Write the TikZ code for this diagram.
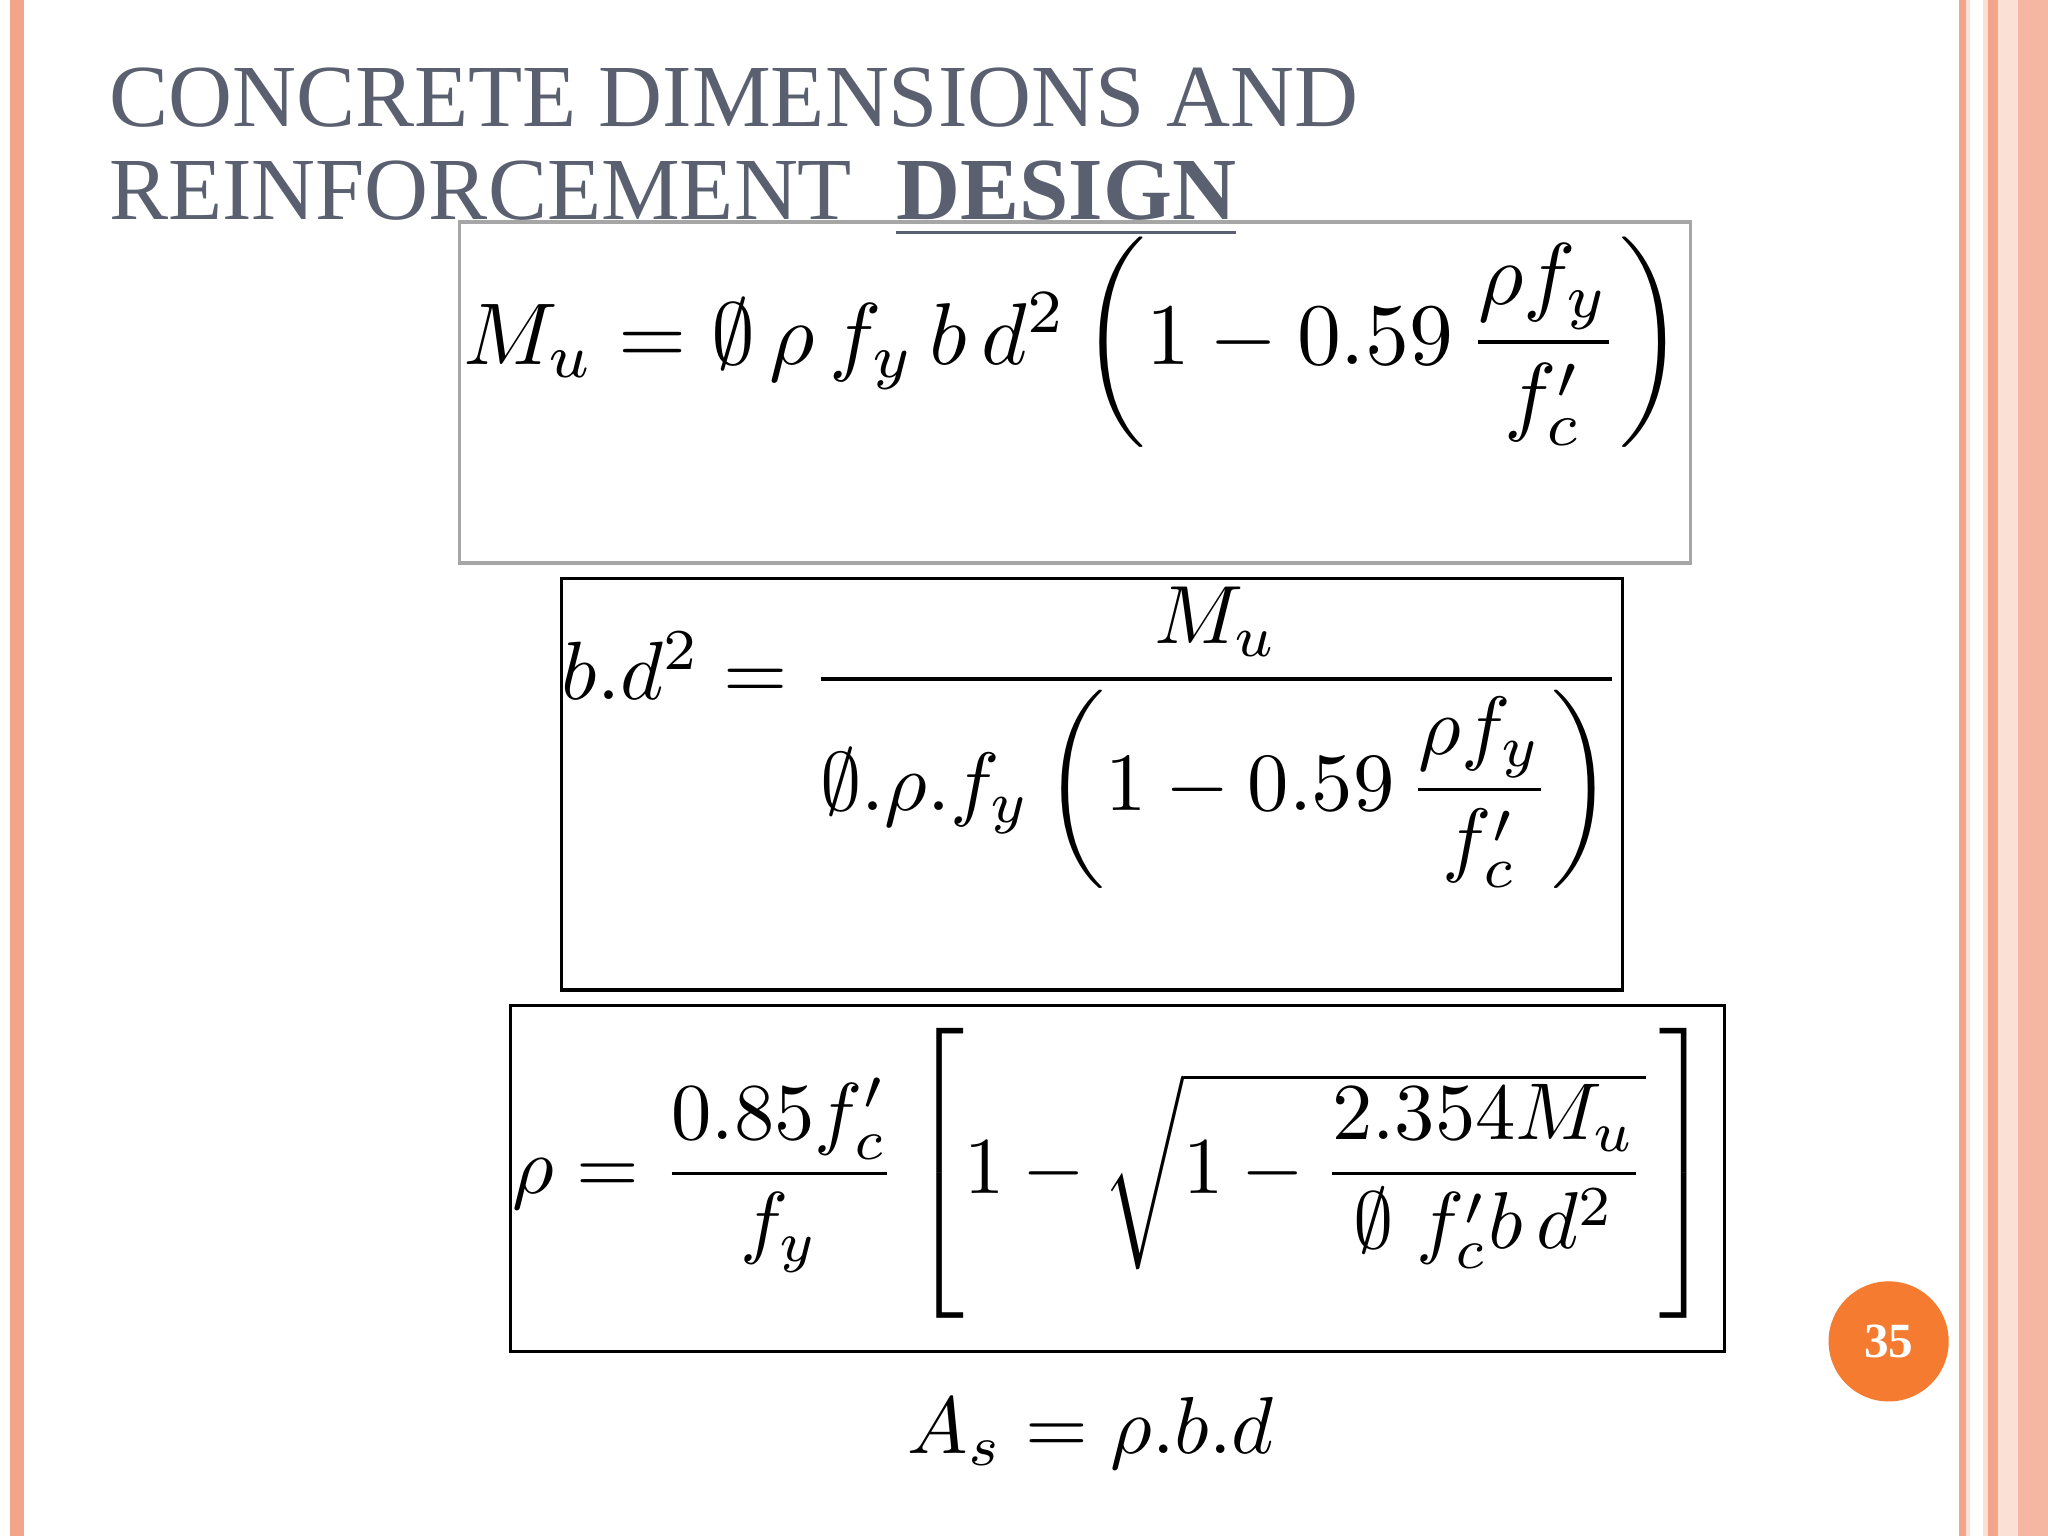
\documentclass[tikz,border=0pt]{standalone}
\usepackage{amsmath,amssymb,graphicx}
\usepackage{fontspec}
\newfontfamily\titlefont{Liberation Serif}
\newfontfamily\numfont{Liberation Serif}
\definecolor{titlegray}{HTML}{5B6070}
\definecolor{stripe}{HTML}{F2A58A}
\definecolor{palestripe}{HTML}{FBE0D6}
\definecolor{badge}{HTML}{F47B30}
\begin{document}
\begin{tikzpicture}[x={(0.013061cm,0)},y={(0,-0.013061cm)},
  fbox/.style={draw,line width=0.9pt},
  txt/.style={inner sep=0pt,anchor=center}]
\useasboundingbox (0,0) rectangle (1568,1176);
\fill[white] (0,0) rectangle (1568,1176);
% borders
\fill[stripe] (8,0) rectangle (18,1176);
\fill[palestripe] (1500,0) rectangle (1568,1176);
\fill[stripe] (1500,0) rectangle (1505,1176);
\fill[white] (1508,0) rectangle (1518,1176);
\fill[stripe] (1522,0) rectangle (1530,1176);
\fill[stripe!80] (1545,0) rectangle (1568,1176);
% title
\node[anchor=base west,inner sep=0pt,text=titlegray] (t1) at (83,97) {\titlefont\fontsize{25.2}{30}\selectfont CONCRETE DIMENSIONS AND};
\node[anchor=base west,inner sep=0pt,text=titlegray] (t2) at (83,168) {\titlefont\fontsize{25.2}{30}\selectfont REINFORCEMENT\ \ \textbf{\underline{DESIGN}}};
% boxes
\draw[fbox,draw=gray!70] (352,170) rectangle (1294,431);
\draw[fbox] (430,443) rectangle (1242,758);
\draw[fbox] (391,770) rectangle (1320,1035);
\node[txt] (f1) at (822,262) {\resizebox{12.2cm}{!}{$M_u=\emptyset\,\rho\,f_y\,b\,d^2\left(1-0.59\,\dfrac{\rho f_y}{f'_c}\right)$}};
\node[txt] (f2) at (836,565) {\resizebox{10.6cm}{!}{$b.d^2=\dfrac{M_u}{\emptyset.\rho.f_y\left(1-0.59\,\dfrac{\rho f_y}{f'_c}\right)}$}};
\node[txt] (f3) at (852,900) {\resizebox{12.0cm}{!}{$\rho=\dfrac{0.85f'_c}{f_y}\left[1-\sqrt{1-\dfrac{2.354M_u}{\emptyset\;f'_c b\,d^2}}\,\rule[-1.6em]{0pt}{3.6em}\right]$}};
\node[txt] (f4) at (835,1097) {\resizebox{3.66cm}{!}{$A_s=\rho.b.d$}};
% page badge
\node[circle,fill=badge,minimum size=92*0.013061cm,inner sep=0pt,text=white] (pg) at (1446,1027) {\numfont\bfseries\fontsize{14}{16}\selectfont 35};
\end{tikzpicture}
\end{document}
